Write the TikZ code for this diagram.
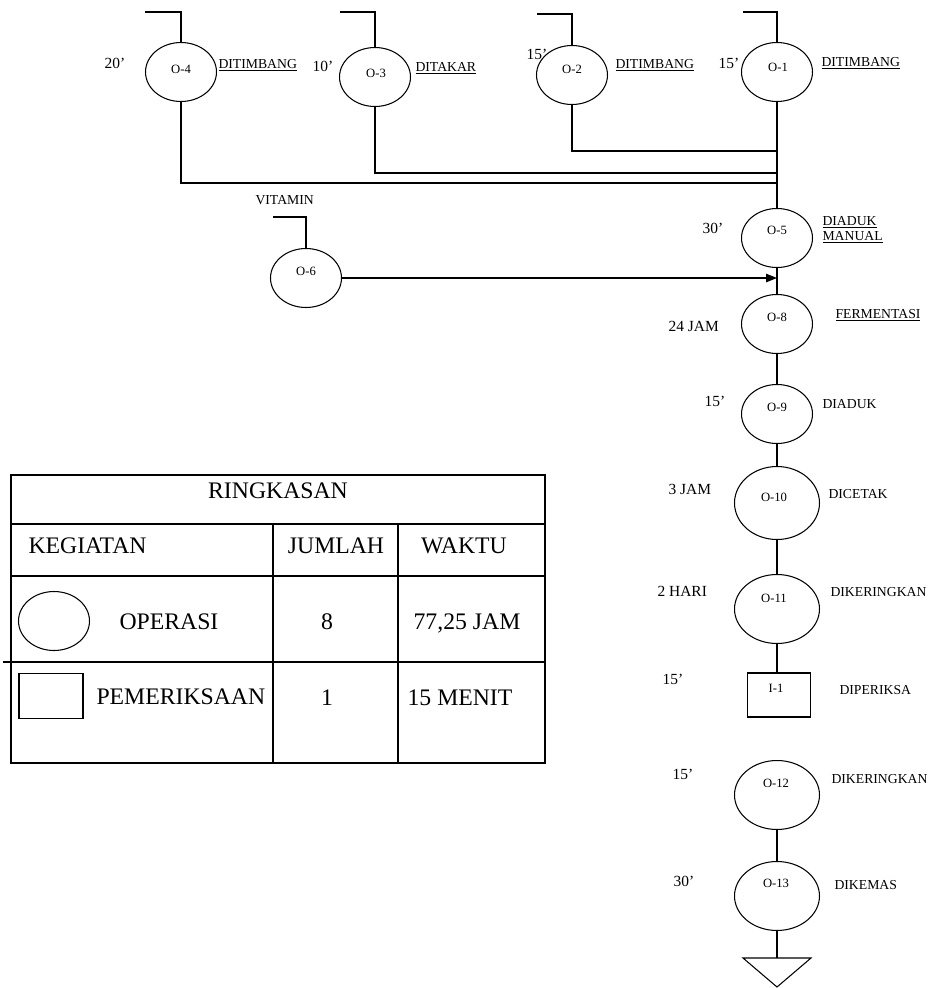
\documentclass[tikz,border=0pt]{standalone}
\usepackage{fontspec}
\setmainfont{Liberation Serif}
\usetikzlibrary{shapes.geometric,arrows.meta}
\newcommand{\tabfont}{\fontsize{13.5}{16}\selectfont}
\newcommand{\sidefont}{\fontsize{7.8}{9.5}\selectfont}
\newcommand{\timefont}{\fontsize{8.8}{10}\selectfont}
\newcommand{\opfont}{\fontsize{7.2}{8}\selectfont}
\tikzset{
  op/.style={draw,ellipse,inner sep=0pt,minimum width=1.42cm,minimum height=1.18cm},
  bigop/.style={op,minimum width=1.7cm,minimum height=1.38cm},
  oplbl/.style={inner sep=0pt,font=\opfont},
  side/.style={anchor=west,inner sep=0pt,font=\sidefont,text height=1.5ex,text depth=0pt},
  tlbl/.style={inner sep=0pt,font=\timefont,text height=1.5ex,text depth=0pt},
  tab/.style={inner sep=0pt,font=\tabfont,text height=1.5ex,text depth=0pt},
}
\begin{document}
\begin{tikzpicture}[x=0.02cm,y=-0.02cm,line width=0.6pt]
\useasboundingbox (0,0) rectangle (931,988);

% bahan masuk
\node[op] (o4) at (181,72) {};
\node[op] (o3) at (375,77) {};
\node[op] (o2) at (572,75) {};
\node[op] (o1) at (777,72) {};
\node[oplbl] (n4) at (181,69) {O-4};
\node[oplbl] (n3) at (376,73) {O-3};
\node[oplbl] (n2) at (572,69) {O-2};
\node[oplbl] (n1) at (778,67) {O-1};
\node[tlbl] (w4) at (115,62) {20'};
\node[tlbl] (w3) at (323,65) {10'};
\node[tlbl] (w2) at (537,53) {15'};
\node[tlbl] (w1) at (729,62) {15'};
\node[side] (k4) at (218,62) {\underline{DITIMBANG}};
\node[side] (k3) at (415,65) {\underline{DITAKAR}};
\node[side] (k2) at (615,62) {\underline{DITIMBANG}};
\node[side] (k1) at (821,60) {\underline{DITIMBANG}};
\coordinate (in4) at (145,12);
\coordinate (in3) at (340,12);
\coordinate (in2) at (537,14);
\coordinate (in1) at (743,12);
\draw (in4) -| (o4.north);
\draw (in3) -| (o3.north);
\draw (in2) -| (o2.north);
\draw (in1) -| (o1.north);

% penggabungan
\coordinate (j2) at (777,151);
\coordinate (j3) at (777,173);
\coordinate (j4) at (777,183);
\draw (o2.south) |- (j2);
\draw (o3.south) |- (j3);
\draw (o4.south) |- (j4);

\node[op] (o5) at (777,238) {};
\node[oplbl] (n5) at (777,230) {O-5};
\node[tlbl] (w5) at (713,227) {30'};
\node[side,text height=,text depth=,align=left] (k5) at (822,230)
  {\underline{DIADUK}\\[-1pt]\underline{MANUAL}};
\draw (o1.south) -- (o5.north);

\node[op] (o6) at (306,278) {};
\node[oplbl] (n6) at (306,271) {O-6};
\node[side] (k6) at (255,198) {VITAMIN};
\coordinate (in6) at (273,217);
\draw (in6) -| (o6.north);
\coordinate (ja) at (777,278);
\draw[-{Triangle[length=0.22cm,width=0.17cm]}] (o6.east) -- (ja);

% aliran utama
\node[op] (o8) at (777,324) {};
\node[op] (o9) at (777,414) {};
\node[bigop,minimum height=1.46cm] (o10) at (777,503) {};
\node[bigop] (o11) at (777,609) {};
\node[draw,inner sep=0pt,minimum width=1.26cm,minimum height=0.88cm] (i1) at (779,695) {};
\node[bigop] (o12) at (777,795) {};
\node[bigop] (o13) at (777,896) {};
\node[oplbl] (n8) at (777,317) {O-8};
\node[oplbl] (n9) at (777,407) {O-9};
\node[oplbl] (n10) at (774,497) {O-10};
\node[oplbl] (n11) at (774,598) {O-11};
\node[oplbl] (m1) at (776,688) {I-1};
\node[oplbl] (n12) at (776,783) {O-12};
\node[oplbl] (n13) at (776,883) {O-13};

\node[tlbl,anchor=west] (w8) at (668,325) {24 JAM};
\node[tlbl] (w9) at (715,400) {15'};
\node[tlbl,anchor=west] (w10) at (668,488) {3 JAM};
\node[tlbl,anchor=west] (w11) at (657,590) {2 HARI};
\node[tlbl] (v1) at (673,678) {15'};
\node[tlbl] (w12) at (683,773) {15'};
\node[tlbl] (w13) at (684,880) {30'};

\node[side] (k8) at (835,312) {\underline{FERMENTASI}};
\node[side] (k9) at (822,402) {DIADUK};
\node[side] (k10) at (828,492) {DICETAK};
\node[side] (k11) at (830,590) {DIKERINGKAN};
\node[side] (p1) at (839,688) {DIPERIKSA};
\node[side] (k12) at (831,777) {DIKERINGKAN};
\node[side] (k13) at (834,883) {DIKEMAS};

\draw (o5.south) -- (o8.north);
\draw (o8.south) -- (o9.north);
\draw (o9.south) -- (o10.north);
\draw (o10.south) -- (o11.north);
\draw (o11.south) -- (o11.south |- i1.north);
\draw (o12.south) -- (o13.north);
\coordinate (sim) at (777,958);
\draw (o13.south) -- (sim);
\draw (743,958) -- (811,958) -- (777,987) -- cycle;

% tabel ringkasan
\draw (11,475) rectangle (545,763);
\draw (11,524) -- (545,524);
\draw (11,576) -- (545,576);
\draw (3,662) -- (545,662);
\draw (273,524) -- (273,763);
\draw (398,524) -- (398,763);
\node[tab] (r0) at (278,492) {RINGKASAN};
\node[tab,anchor=west] (h1) at (28,547) {KEGIATAN};
\node[tab] (h2) at (336,547) {JUMLAH};
\node[tab] (h3) at (464,547) {WAKTU};
\node[draw,ellipse,inner sep=0pt,minimum width=1.42cm,minimum height=1.18cm] (lo) at (54,621) {};
\node[tab,anchor=west] (r1) at (119,623) {OPERASI};
\node[tab] (r1n) at (327,623) {8};
\node[tab] (r1w) at (467,623) {77,25 JAM};
\node[draw,inner sep=0pt,minimum width=1.28cm,minimum height=0.9cm] (li) at (51,696) {};
\node[tab,anchor=west] (r2) at (96,698) {PEMERIKSAAN};
\node[tab] (r2n) at (327,699) {1};
\node[tab] (r2w) at (460,699) {15 MENIT};
\end{tikzpicture}
\end{document}
